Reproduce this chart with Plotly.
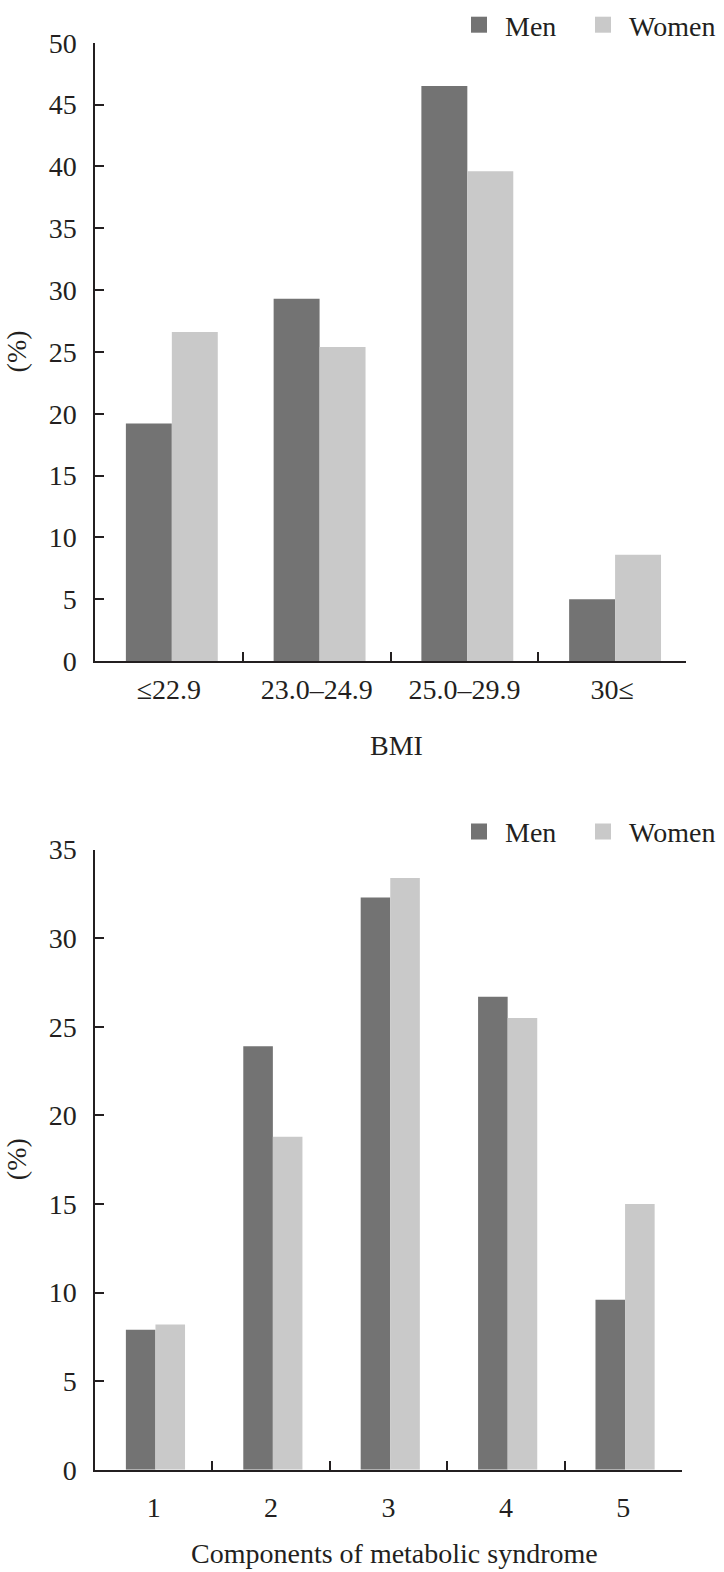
import plotly.graph_objects as go

# ---------------- data ----------------
bmi_categories = ["≤22.9", "23.0–24.9", "25.0–29.9", "30≤"]
bmi_men = [19.2, 29.3, 46.5, 5.0]
bmi_women = [26.6, 25.4, 39.6, 8.6]

comp_categories = ["1", "2", "3", "4", "5"]
comp_men = [7.9, 23.9, 32.3, 26.7, 9.6]
comp_women = [8.2, 18.8, 33.4, 25.5, 15.0]

series_names = ["Men", "Women"]
series_colors = ["#737373", "#c9c9c9"]

# ---------------- layout helpers ----------------
W, H = 724, 1572
FONT = "Liberation Serif"
INK = "#231f20"
FS = 28


def fx(px):
    return px / W


def fy(py):
    return 1 - py / H


fig = go.Figure()

# top chart bars
w_top = 0.311
for name, vals, col, off in [(series_names[0], bmi_men, series_colors[0], -w_top + 0.02),
                             (series_names[1], bmi_women, series_colors[1], 0.02)]:
    fig.add_trace(go.Bar(x=bmi_categories, y=vals, name=name, marker_color=col,
                         marker_line_width=0, width=w_top, offset=off,
                         xaxis="x", yaxis="y", showlegend=False))

# bottom chart bars
w_bot = 0.252
for name, vals, col, off in [(series_names[0], comp_men, series_colors[0], -w_bot + 0.015),
                             (series_names[1], comp_women, series_colors[1], 0.015)]:
    fig.add_trace(go.Bar(x=comp_categories, y=vals, name=name, marker_color=col,
                         marker_line_width=0, width=w_bot, offset=off,
                         xaxis="x2", yaxis="y2", showlegend=False))

# legend entries (square markers), one legend box per entry
legend_ids = {("top", "Men"): "legend", ("top", "Women"): "legend3",
              ("bot", "Men"): "legend2", ("bot", "Women"): "legend4"}
for panel, xa, ya in [("top", "x", "y"), ("bot", "x2", "y2")]:
    for name, col in zip(series_names, series_colors):
        fig.add_trace(go.Scatter(x=[None], y=[None], mode="markers", name=name,
                                 marker=dict(symbol="square", size=19, color=col),
                                 xaxis=xa, yaxis=ya, legend=legend_ids[(panel, name)],
                                 showlegend=True))

axis_common = dict(showline=True, linecolor=INK, linewidth=1.5, ticks="inside",
                   tickcolor=INK, tickwidth=1.5, ticklen=9, showgrid=False,
                   zeroline=False, automargin=False,
                   tickfont=dict(family=FONT, size=FS, color=INK))

legend_common = dict(orientation="h", xanchor="left", yanchor="middle",
                     font=dict(family=FONT, size=FS, color=INK),
                     bgcolor="rgba(0,0,0,0)", itemwidth=42)

fig.update_layout(
    width=W, height=H,
    margin=dict(l=0, r=0, t=0, b=0),
    paper_bgcolor="white", plot_bgcolor="white",
    barmode="overlay",
    font=dict(family=FONT, size=FS, color=INK),
    xaxis=dict(domain=[fx(95), fx(686)], anchor="y", type="category",
               range=[-0.5, 3.5], tickson="boundaries", ticklabelstandoff=3,
               **axis_common),
    yaxis=dict(domain=[fy(654), fy(31)], anchor="x", range=[0, 50], dtick=5,
               ticklabelstandoff=11, **axis_common),
    xaxis2=dict(domain=[fx(95), fx(682)], anchor="y2", type="category",
                range=[-0.5, 4.5], tickson="boundaries", ticklabelstandoff=12,
                **axis_common),
    yaxis2=dict(domain=[fy(1469), fy(844)], anchor="x2", range=[0, 35], dtick=5,
                ticklabelstandoff=11, **axis_common),
    legend=dict(x=fx(453), y=fy(13), **legend_common),
    legend3=dict(x=fx(577), y=fy(13), **legend_common),
    legend2=dict(x=fx(453), y=fy(826), **legend_common),
    legend4=dict(x=fx(577), y=fy(826), **legend_common),
    annotations=[
        dict(text="BMI", xref="paper", yref="paper", x=fx(396), y=fy(739),
             xanchor="center", yanchor="middle", showarrow=False,
             font=dict(family=FONT, size=FS, color=INK)),
        dict(text="Components of metabolic syndrome", xref="paper", yref="paper",
             x=fx(394), y=fy(1553), xanchor="center", yanchor="middle", showarrow=False,
             font=dict(family=FONT, size=FS, color=INK)),
        dict(text="(%)", xref="paper", yref="paper", x=fx(16), y=fy(342),
             xanchor="center", yanchor="middle", textangle=-90, showarrow=False,
             font=dict(family=FONT, size=FS, color=INK)),
        dict(text="(%)", xref="paper", yref="paper", x=fx(16), y=fy(1156),
             xanchor="center", yanchor="middle", textangle=-90, showarrow=False,
             font=dict(family=FONT, size=FS, color=INK)),
    ],
)

fig.write_html("out.html", config={"displayModeBar": False},
               post_script="document.body.style.margin='0px';")
